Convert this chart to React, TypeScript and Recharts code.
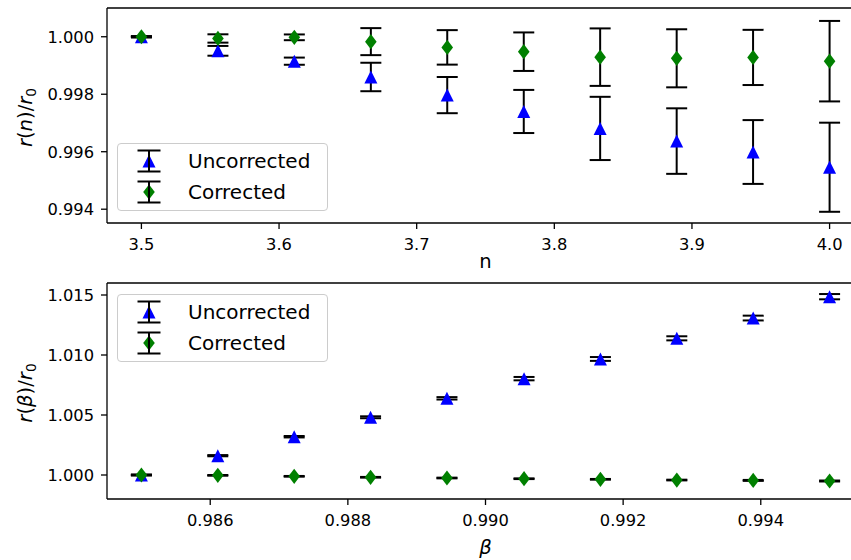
import React from 'react';
import { ScatterChart, Scatter, XAxis, YAxis, ErrorBar, ReferenceLine } from 'recharts';

// ---------- data ----------
const nValues = [3.5, 3.5556, 3.6111, 3.6667, 3.7222, 3.7778, 3.8333, 3.8889, 3.9444, 4.0];
const nUncorrected = [1.0, 0.99951, 0.99915, 0.9986, 0.99797, 0.9974, 0.99681, 0.99637, 0.99599, 0.99546];
const nUncorrectedErr = [0.00002, 0.00017, 0.000125, 0.000495, 0.00063, 0.00075, 0.0011, 0.00114, 0.00111, 0.00155];
const nCorrected = [1.0, 0.99994, 0.99998, 0.99983, 0.99963, 0.99948, 0.99929, 0.99925, 0.99928, 0.99915];
const nCorrectedErr = [0.00002, 0.000145, 0.0001, 0.00047, 0.0006, 0.00067, 0.001, 0.00101, 0.00096, 0.0014];

const betaValues = [0.985, 0.98611, 0.98722, 0.98833, 0.98944, 0.99056, 0.99167, 0.99278, 0.99389, 0.995];
const bUncorrected = [1.0, 1.00161, 1.00319, 1.00481, 1.00639, 1.00803, 1.00967, 1.01139, 1.01308, 1.01486];
const bUncorrectedErr = [0.00003, 0.00005, 0.00006, 0.00008, 0.0001, 0.00014, 0.00016, 0.00017, 0.0002, 0.00022];
const bCorrected = [1.0, 0.99997, 0.99989, 0.99981, 0.99975, 0.99969, 0.99964, 0.99958, 0.99955, 0.9995];
const bCorrectedErr = [0.00003, 0.00003, 0.00003, 0.00003, 0.00003, 0.00003, 0.00003, 0.00003, 0.00004, 0.00004];

const topXTicks = [3.5, 3.6, 3.7, 3.8, 3.9, 4.0];
const topYTicks = [0.994, 0.996, 0.998, 1.0];
const botXTicks = [0.986, 0.988, 0.99, 0.992, 0.994];
const botYTicks = [1.0, 1.005, 1.01, 1.015];

const seriesNames = ['Uncorrected', 'Corrected'];

const topXDomain = [3.475, 4.025];
const topYDomain = [0.99352, 1.001];
const botXDomain = [0.9845, 0.9955];
const botYDomain = [0.998, 1.016];

const build = (xs: number[], ys: number[], es: number[]) => xs.map((x, i) => ({ x, y: ys[i], err: es[i] }));

const topUnc = build(nValues, nUncorrected, nUncorrectedErr);
const topCor = build(nValues, nCorrected, nCorrectedErr);
const botUnc = build(betaValues, bUncorrected, bUncorrectedErr);
const botCor = build(betaValues, bCorrected, bCorrectedErr);

// ---------- styling ----------
const FONT = 'DejaVu Sans';
const BLUE = '#0000ff';
const GREEN = '#008000';
const AXIS = '#000000';
const tickStyle = { fontFamily: FONT, fontSize: 16.3, fill: '#000' };

const Triangle = (props: any) => {
  const { cx, cy } = props;
  if (cx == null || cy == null) return <g />;
  const s = 6.5;
  return <path d={`M${cx},${cy - s} L${cx - s},${cy + s} L${cx + s},${cy + s} Z`} fill={BLUE} />;
};

const Diamond = (props: any) => {
  const { cx, cy } = props;
  if (cx == null || cy == null) return <g />;
  const w = 5.8, h = 7.6;
  return <path d={`M${cx},${cy - h} L${cx + w},${cy} L${cx},${cy + h} L${cx - w},${cy} Z`} fill={GREEN} />;
};

const Nothing = () => <g />;

const YLabel = (parts: { t: string; it?: boolean }[], sub: string) => (props: any) => {
  const vb = props.viewBox || {};
  const cy = vb.y + vb.height / 2 + 2;
  const bx = 32;
  return (
    <text
      x={bx}
      y={cy}
      transform={`rotate(-90, ${bx}, ${cy})`}
      textAnchor="middle"
      fontFamily={FONT}
      fontSize={19.6}
      fill="#000"
    >
      {parts.map((p, i) => (
        <tspan key={i} fontStyle={p.it ? 'italic' : 'normal'}>{p.t}</tspan>
      ))}
      <tspan fontSize={13.7} dy={3.5}>{sub}</tspan>
    </text>
  );
};

const XLabel = (text: string, italic: boolean, offset: number) => (props: any) => {
  const vb = props.viewBox || {};
  return (
    <text
      x={vb.x + vb.width / 2}
      y={vb.y + offset}
      textAnchor="middle"
      fontFamily={FONT}
      fontSize={19.6}
      fontStyle={italic ? 'italic' : 'normal'}
      fill="#000"
    >
      {text}
    </text>
  );
};

const LegendIcon = ({ kind }: { kind: number }) => (
  <svg width={26} height={26} style={{ position: 'absolute', left: 18, top: -13, overflow: 'visible' }}>
    {kind === 0 ? (
      <path d="M13,6.5 L6.5,19.5 L19.5,19.5 Z" fill={BLUE} />
    ) : (
      <path d="M13,5.4 L18.8,13 L13,20.6 L7.2,13 Z" fill={GREEN} />
    )}
    <line x1={13} y1={2.5} x2={13} y2={23.5} stroke="#000" strokeWidth={2} />
    <line x1={1.5} y1={2.5} x2={24.5} y2={2.5} stroke="#000" strokeWidth={2} />
    <line x1={1.5} y1={23.5} x2={24.5} y2={23.5} stroke="#000" strokeWidth={2} />
  </svg>
);

const LegendBox = ({ left, top }: { left: number; top: number }) => (
  <div
    style={{
      position: 'absolute',
      left,
      top,
      width: 211,
      height: 68,
      border: '1px solid #cccccc',
      borderRadius: 4,
      background: 'rgba(255,255,255,0.8)',
      boxSizing: 'border-box',
      fontFamily: FONT,
      fontSize: 20,
      color: '#000',
    }}
  >
    {seriesNames.map((name, i) => (
      <div key={name} style={{ position: 'absolute', left: 0, top: 17 + i * 31, width: '100%' }}>
        <LegendIcon kind={i} />
        <span style={{ position: 'absolute', left: 70, top: -12, lineHeight: '24px', whiteSpace: 'nowrap' }}>{name}</span>
      </div>
    ))}
  </div>
);

const CHART_W = 900;

const Panel = ({
  unc, cor, xDomain, yDomain, xTicks, yTicks, xFmt, yFmt, height, margin, xAxisH, xLabel, yLabel,
}: any) => (
  <ScatterChart width={CHART_W} height={height} margin={margin} style={{ overflow: 'visible' }}>
    <XAxis
      type="number"
      dataKey="x"
      domain={xDomain}
      ticks={xTicks}
      allowDataOverflow
      interval={0}
      tickFormatter={xFmt}
      height={xAxisH}
      tick={tickStyle}
      tickSize={6}
      tickMargin={9}
      axisLine={{ stroke: AXIS, strokeWidth: 1.3 }}
      tickLine={{ stroke: AXIS, strokeWidth: 1.3 }}
      label={{ content: xLabel }}
    />
    <YAxis
      type="number"
      dataKey="y"
      domain={yDomain}
      ticks={yTicks}
      allowDataOverflow
      interval={0}
      tickFormatter={yFmt}
      width={107}
      tick={tickStyle}
      tickSize={6}
      tickMargin={7}
      axisLine={{ stroke: AXIS, strokeWidth: 1.3 }}
      tickLine={{ stroke: AXIS, strokeWidth: 1.3 }}
      label={{ content: yLabel }}
    />
    <ReferenceLine y={yDomain[1]} stroke={AXIS} strokeWidth={1.3} ifOverflow="extendDomain" />
    <Scatter name="UncorrectedMarkers" data={unc} shape={Triangle} isAnimationActive={false} />
    <Scatter name="Uncorrected" data={unc} shape={Nothing} isAnimationActive={false}>
      <ErrorBar dataKey="err" direction="y" width={10.5} stroke="#000" strokeWidth={2} />
    </Scatter>
    <Scatter name="CorrectedMarkers" data={cor} shape={Diamond} isAnimationActive={false} />
    <Scatter name="Corrected" data={cor} shape={Nothing} isAnimationActive={false}>
      <ErrorBar dataKey="err" direction="y" width={10.5} stroke="#000" strokeWidth={2} />
    </Scatter>
  </ScatterChart>
);

export default function App() {
  return (
    <div
      style={{
        position: 'absolute',
        left: 0,
        top: 0,
        width: 851,
        height: 560,
        overflow: 'hidden',
        background: '#fff',
      }}
    >
      <div style={{ position: 'absolute', left: 0, top: 0 }}>
        <Panel
          unc={topUnc}
          cor={topCor}
          xDomain={topXDomain}
          yDomain={topYDomain}
          xTicks={topXTicks}
          yTicks={topYTicks}
          xFmt={(v: number) => v.toFixed(1)}
          yFmt={(v: number) => v.toFixed(3)}
          height={280}
          margin={{ top: 8, right: 36, bottom: 0, left: 0 }}
          xAxisH={57}
          xLabel={XLabel('n', false, 45)}
          yLabel={YLabel([{ t: 'r', it: true }, { t: '(' }, { t: 'n', it: true }, { t: ')/' }, { t: 'r', it: true }], '0')}
        />
      </div>
      <div style={{ position: 'absolute', left: 0, top: 270 }}>
        <Panel
          unc={botUnc}
          cor={botCor}
          xDomain={botXDomain}
          yDomain={botYDomain}
          xTicks={botXTicks}
          yTicks={botYTicks}
          xFmt={(v: number) => v.toFixed(3)}
          yFmt={(v: number) => v.toFixed(3)}
          height={290}
          margin={{ top: 13, right: 36, bottom: 0, left: 0 }}
          xAxisH={61}
          xLabel={XLabel('β', true, 55)}
          yLabel={YLabel([{ t: 'r', it: true }, { t: '(' }, { t: 'β', it: true }, { t: ')/' }, { t: 'r', it: true }], '0')}
        />
      </div>
      <LegendBox left={117} top={143} />
      <LegendBox left={117} top={294} />
    </div>
  );
}
